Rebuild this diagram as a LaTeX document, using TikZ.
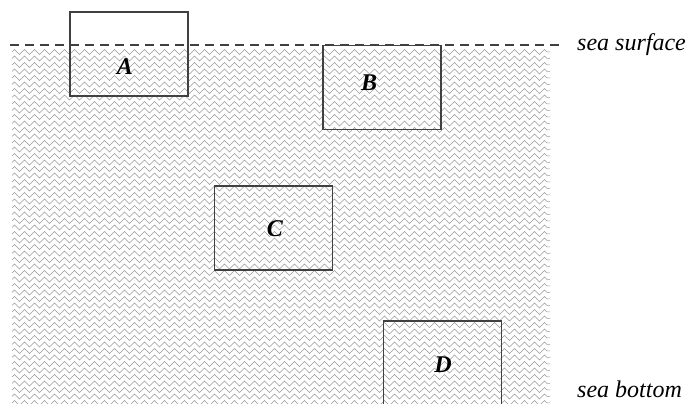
\documentclass[tikz,border=0pt]{standalone}
\usepackage{fontspec}
\setmainfont{Liberation Serif}
\usetikzlibrary{decorations.pathmorphing}
\begin{document}
\begin{tikzpicture}[x=1pt,y=1pt,
  zone/.style={draw=black!75,line width=1.2pt,minimum width=118pt,minimum height=84pt,inner sep=0pt},
  tag/.style={font=\fontsize{24}{24}\selectfont\bfseries\itshape},
  level/.style={font=\fontsize{24}{24}\selectfont\itshape,anchor=west,inner sep=0pt},
  wave/.style={draw=black!40,line width=0.5pt,decorate,decoration={zigzag,segment length=10pt,amplitude=2.5pt}}]
\useasboundingbox (0,0) rectangle (696,404);
\clip (0,0) rectangle (696,404);
% water
\foreach \y in {0,6.5,...,352}
  \draw[wave] (12,352-\y) -- (550,352-\y);
% surface
\coordinate (surfstart) at (10,359);
\node[level] (surface) at (577,359) {sea surface};
\draw[dashed,dash pattern=on 9pt off 6pt,line width=1.1pt,black!75] (surfstart) -- ([xshift=-15pt]surface.west);
\node[level,anchor=base west] (bottom) at (577,6) {sea bottom};
% boxes
\node[zone] (A) at (129,350) {};
\node[tag] at (125,337) {A};
\node[zone] (B) at (382,316.5) {};
\node[tag] at (369,321) {B};
\node[zone] (C) at (273.5,176) {};
\node[tag] at (275,175) {C};
\node[zone] (D) at (442.5,41) {};
\node[tag] at (443,39) {D};
\end{tikzpicture}
\end{document}
